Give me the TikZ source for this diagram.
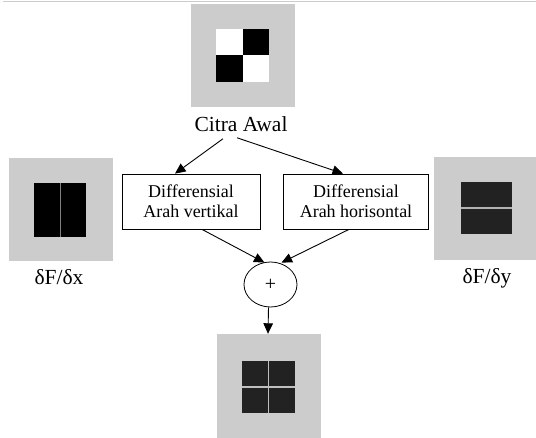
\documentclass[tikz,border=0pt]{standalone}
\usepackage{fontspec}
\setmainfont{Liberation Serif}
\usetikzlibrary{arrows.meta,shapes.geometric}
\definecolor{panelgray}{HTML}{CCCCCC}
\definecolor{cellgray}{HTML}{222222}
\tikzset{
  panel/.style={fill=panelgray, draw=none, minimum width=104pt, minimum height=103pt, inner sep=0pt},
  procbox/.style={draw, line width=0.8pt, fill=white, align=center, inner sep=0pt,
    minimum height=55pt, font=\fontsize{18}{20}\selectfont},
  caption/.style={inner sep=0pt, font=\fontsize{21.5}{24}\selectfont},
  sumnode/.style={ellipse, draw, line width=0.8pt, minimum width=53pt, minimum height=45pt,
    inner sep=0pt, font=\fontsize{20}{22}\selectfont},
  flow/.style={-{Triangle[length=10.5pt,width=9.5pt]}, line width=0.9pt}
}
\begin{document}
\begin{tikzpicture}[x=1pt,y=-1pt]
\useasboundingbox (0,0) rectangle (536,438);
% thin rule along the top edge
\draw[panelgray, line width=1pt] (3,2) -- (536,2);

% --- original image: checkerboard
\node[panel] (orig) at (243,55.5) {};
\fill[white] (216,29) rectangle (243,55.5);
\fill[black] (243,29) rectangle (269,55.5);
\fill[black] (216,55.5) rectangle (243,82);
\fill[white] (243,55.5) rectangle (269,82);
\node[caption] (cit) at (241,124) {Citra Awal};

% --- derivative in x
\node[panel] (dx) at (61,209.5) {};
\fill[black] (34,183) rectangle (86,237);
\draw[gray, line width=1pt] (60,183) -- (60,237);
\node[caption] (dxl) at (59,277) {δF/δx};

% --- derivative in y
\node[panel] (dy) at (486,209) {};
\fill[cellgray] (461,182) rectangle (512,234);
\draw[gray!60, line width=1.2pt] (461,208) -- (512,208);
\node[caption] (dyl) at (487,278) {δF/δy};

% --- processing boxes
\node[procbox, minimum width=138pt] (vert) at (191,201.5) {Differensial\\Arah vertikal};
\node[procbox, minimum width=145pt] (hori) at (356,201.5) {Differensial\\Arah horisontal};

% --- summation
\node[sumnode] (sum) at (270.5,284.5) {+};

% --- result
\node[panel, minimum height=110pt] (res) at (269,389) {};
\fill[cellgray] (242,361) rectangle (295,413);
\draw[gray!50, line width=1.2pt] (268.5,361) -- (268.5,413);
\draw[gray!50, line width=1.2pt] (242,387) -- (295,387);

% --- connectors
\draw[flow] ([xshift=-18pt,yshift=-7pt]cit.south) -- ([xshift=-16pt]vert.north);
\draw[flow] ([xshift=-4pt,yshift=-6pt]cit.south) -- ([xshift=-13pt]hori.north);
\draw[flow] ([xshift=11pt]vert.south) -- ([xshift=-6pt,yshift=-1pt]sum.north);
\draw[flow] ([xshift=-7pt]hori.south) -- ([xshift=11pt,yshift=-1pt]sum.north);
\draw[flow] ([xshift=-2pt]sum.south) -- ([xshift=-1pt]res.north);
\end{tikzpicture}
\end{document}
